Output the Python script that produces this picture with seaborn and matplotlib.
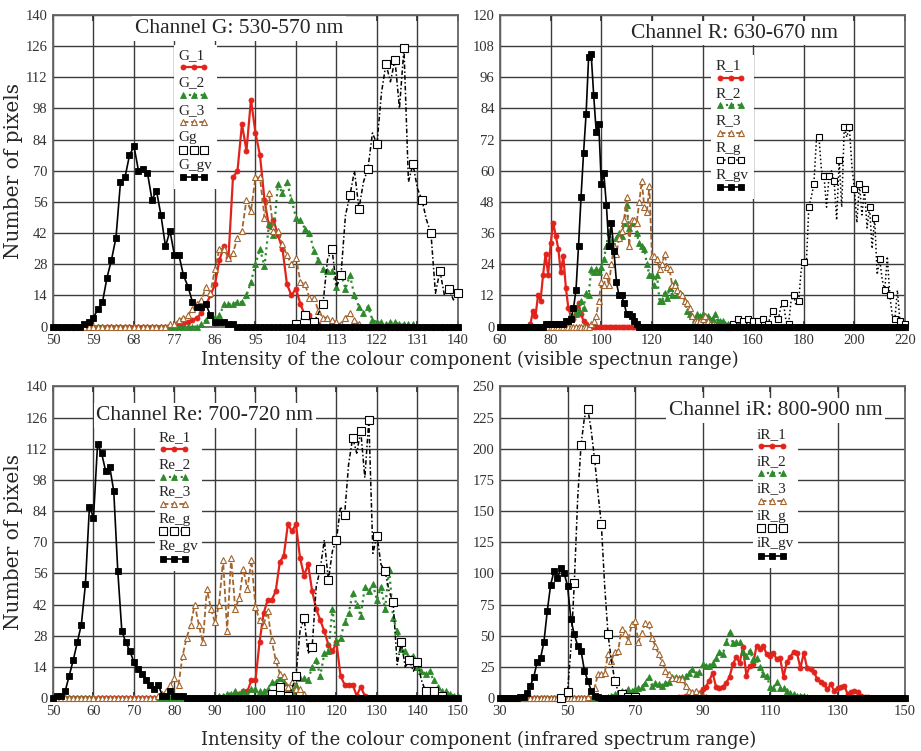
import numpy as np
import pandas as pd
import matplotlib
matplotlib.use('Agg')
import matplotlib.pyplot as plt
from matplotlib.lines import Line2D
import seaborn as sns

# histogram counts: first intensity value, then one count per intensity step
# (everything outside the listed run is zero)

# Channel G: 530-570 nm
G_range = (50, 140)
G_1_start = 78
G_1 = [1, 1, 2, 3, 4, 6, 10, 14, 19, 30, 36, 31, 67, 70, 91, 79, 102, 87, 77, 57,
       45, 48, 41, 35, 19, 14, 17, 10, 5, 5, 2, 1]
G_2_start = 83
G_2 = [1, 3, 5, 4, 5, 10, 10, 10, 11, 11, 14, 20, 28, 35, 27, 46, 41, 64, 60, 65,
       57, 49, 48, 44, 42, 34, 30, 26, 25, 25, 18, 24, 17, 23, 14, 9, 6, 9, 3, 2,
       2, 1, 2, 2, 1, 1, 1, 1]
G_3_start = 76
G_3 = [1, 1, 3, 4, 5, 8, 10, 12, 18, 15, 26, 35, 35, 31, 33, 40, 43, 57, 52, 67,
       67, 49, 60, 43, 43, 37, 32, 28, 31, 20, 19, 13, 13, 7, 4, 4, 3, 2, 1, 4,
       6, 3, 1]
Gg_start = 104
Gg = [1, 3, 5, 3, 2, 6, 10, 30, 35, 18, 23, 50, 59, 70, 53, 65, 71, 87, 82, 105,
      118, 110, 120, 98, 125, 65, 73, 62, 57, 48, 42, 15, 25, 14, 17, 12, 15]
G_gv_start = 57
G_gv = [1, 2, 4, 8, 11, 22, 30, 40, 65, 67, 77, 81, 70, 71, 69, 57, 61, 50, 36, 43,
        32, 32, 23, 18, 11, 9, 9, 10, 5, 2, 2, 2, 1, 1]

# Channel R: 630-670 nm
R_range = (60, 220)
R_1_start = 72
R_1 = [1, 6, 4, 12, 10, 20, 28, 20, 32, 40, 35, 30, 21, 27, 15, 7, 4, 3, 5, 9, 5, 2, 1]
R_2_start = 86
R_2 = [1, 2, 4, 7, 5, 6, 10, 7, 13, 12, 22, 21, 22, 21, 23, 26, 31, 37, 33, 31,
       34, 36, 35, 40, 47, 38, 40, 40, 36, 32, 31, 30, 24, 20, 20, 16, 20, 10, 10, 13,
       11, 15, 12, 17, 12, 13, 12, 10, 6, 5, 4, 3, 5, 4, 5, 4, 4, 3, 3, 5,
       2, 2, 2, 1, 1, 0, 1, 0, 1, 0, 0, 1, 0, 1]
R_3_start = 96
R_3 = [1, 2, 4, 10, 17, 16, 20, 16, 24, 31, 28, 34, 37, 41, 50, 31, 41, 41, 40, 48,
       56, 46, 44, 54, 27, 27, 26, 22, 24, 28, 23, 22, 16, 16, 14, 13, 12, 10, 9, 7,
       4, 2, 2, 2, 3, 4, 2, 1, 1]
R_g_start = 150
R_g = [0, 1, 1, 2, 3, 1, 2, 1, 3, 1, 2, 3, 2, 1, 3, 2, 1, 5, 6, 2,
       3, 8, 9, 2, 1, 10, 12, 8, 10, 22, 25, 24, 46, 50, 55, 72, 73, 60, 58, 46,
       58, 60, 56, 41, 64, 46, 77, 73, 77, 62, 53, 40, 55, 43, 53, 38, 46, 30, 42, 20,
       26, 18, 14, 27, 12, 4, 3, 14, 2, 1, 1]
R_gv_start = 78
R_gv = [1, 1, 1, 1, 1, 1, 1, 1, 2, 2, 3, 7, 14, 31, 50, 67, 82, 104, 105, 89,
        75, 78, 55, 59, 47, 31, 40, 29, 17, 12, 12, 9, 5, 5, 4, 2, 1]

# Channel Re: 700-720 nm
Re_range = (50, 150)
Re_1_start = 94
Re_1 = [1, 2, 2, 3, 3, 8, 8, 25, 38, 44, 44, 48, 61, 64, 78, 75, 78, 63, 55, 60,
        48, 40, 35, 30, 24, 21, 25, 10, 6, 6, 6, 1, 5, 1]
Re_2_start = 91
Re_2 = [1, 1, 2, 2, 3, 2, 3, 2, 4, 4, 3, 3, 4, 7, 7, 9, 7, 4, 3, 6,
        9, 9, 8, 14, 17, 10, 20, 21, 40, 25, 27, 34, 38, 47, 42, 37, 50, 48, 51, 44,
        50, 40, 58, 36, 30, 22, 21, 18, 19, 14, 12, 11, 12, 8, 5, 3, 3, 2, 1, 1]
Re_3_start = 76
Re_3 = [1, 2, 3, 6, 9, 6, 19, 27, 33, 42, 33, 25, 49, 40, 34, 42, 62, 30, 63, 40,
        45, 58, 49, 62, 41, 35, 33, 39, 26, 17, 11, 10, 5, 7, 4, 4, 2]
Re_g_start = 104
Re_g = [2, 3, 5, 3, 1, 4, 10, 30, 36, 20, 23, 50, 58, 71, 53, 66, 71, 86, 82, 105,
        117, 110, 120, 99, 125, 65, 73, 60, 57, 48, 43, 15, 25, 14, 17, 12, 16, 8, 3, 2,
        3, 1, 1]
Re_gv_start = 51
Re_gv = [1, 1, 3, 10, 17, 25, 33, 51, 86, 81, 114, 110, 102, 104, 93, 57, 30, 25, 21, 16,
         13, 11, 8, 6, 4, 6, 1, 1, 3, 1, 1, 1]

# Channel iR: 800-900 nm
iR_range = (30, 150)
iR_1_start = 83
iR_1 = [1, 1, 2, 2, 2, 3, 4, 7, 9, 14, 20, 9, 8, 9, 12, 17, 27, 33, 28, 41,
        18, 26, 27, 42, 39, 42, 35, 34, 36, 31, 32, 17, 29, 33, 37, 36, 24, 36, 24, 23,
        21, 15, 13, 11, 7, 11, 6, 8, 9, 10, 3, 5, 6, 5, 2, 1, 1]
iR_2_start = 62
iR_2 = [1, 2, 3, 4, 6, 5, 7, 6, 7, 8, 9, 12, 17, 10, 12, 11, 10, 12, 13, 17,
        17, 16, 17, 18, 20, 23, 19, 21, 27, 26, 26, 28, 32, 37, 35, 45, 53, 44, 45, 45,
        37, 34, 38, 31, 32, 25, 19, 18, 9, 8, 13, 8, 8, 6, 4, 3, 2, 2, 2, 1]
iR_3_start = 56
iR_3 = [1, 4, 8, 19, 19, 20, 35, 30, 37, 38, 55, 52, 46, 59, 62, 45, 52, 60, 59, 48,
        42, 35, 29, 22, 19, 16, 16, 15, 15, 10, 6, 5, 6, 3, 2, 1]
iR_g_start = 48
iR_g = [0, 1, 5, 40, 92, 160, 203, 225, 232, 215, 192, 165, 140, 90, 51, 30, 14, 5, 3, 2,
        1, 1, 1]
iR_gv_start = 36
iR_gv = [1, 1, 4, 10, 17, 29, 32, 45, 70, 91, 102, 96, 104, 100, 90, 63, 51, 42, 38, 22,
         14, 6, 2, 1]

RED = '#e2231c'
GREEN = '#2f8a2c'
BROWN = '#a3652e'

st_1 = dict(color=RED, linestyle='-', linewidth=1.6, marker='o', markersize=3.6,
            markerfacecolor=RED, markeredgecolor=RED, markeredgewidth=0.6)
st_2 = dict(color=GREEN, linestyle=':', linewidth=1.6, marker='^', markersize=4.3,
            markerfacecolor=GREEN, markeredgecolor=GREEN, markeredgewidth=0.6)
st_3 = dict(color=BROWN, linestyle=(0, (3, 1.5)), linewidth=1.3, marker='^', markersize=4.6,
            markerfacecolor='white', markeredgecolor=BROWN, markeredgewidth=0.8)
st_g = dict(color='black', linestyle=(0, (3, 1.5, 1, 1.5)), linewidth=1.1, marker='s',
            markersize=5.6, markerfacecolor='white', markeredgecolor='black', markeredgewidth=0.8)
st_gr = dict(st_g, linestyle=':', markersize=4.4)
st_gv = dict(color='black', linestyle='-', linewidth=1.2, marker='s', markersize=3.8,
             markerfacecolor='black', markeredgecolor='black', markeredgewidth=0.6)


def counts(rng, start, vals, pad=True):
    if not pad:
        x = np.arange(start, start + len(vals))
        return pd.DataFrame({'intensity': x, 'pixels': np.array(vals, dtype=float)})
    x = np.arange(rng[0], rng[1] + 1)
    y = np.zeros(len(x))
    y[start - rng[0]:start - rng[0] + len(vals)] = vals
    return pd.DataFrame({'intensity': x, 'pixels': y})


panels = [
    dict(title='Channel G: 530-570 nm', rng=G_range, xticks=np.arange(50, 141, 9),
         yticks=np.arange(0, 141, 14),
         series=[('G_1', G_1_start, G_1, st_1), ('G_2', G_2_start, G_2, st_2),
                 ('G_3', G_3_start, G_3, st_3), ('Gg', Gg_start, Gg, st_g),
                 ('G_gv', G_gv_start, G_gv, st_gv)],
         tpos=(0.46, 0.957), lpos=(0.300, 0.905)),
    dict(title='Channel R: 630-670 nm', rng=R_range, xticks=np.arange(60, 221, 20),
         yticks=np.arange(0, 121, 12),
         series=[('R_1', R_1_start, R_1, st_1), ('R_2', R_2_start, R_2, st_2),
                 ('R_3', R_3_start, R_3, st_3), ('R_g', R_g_start, R_g, st_gr),
                 ('R_gv', R_gv_start, R_gv, st_gv)],
         tpos=(0.58, 0.942), lpos=(0.522, 0.872)),
    dict(title='Channel Re: 700-720 nm', rng=Re_range, xticks=np.arange(50, 151, 10),
         yticks=np.arange(0, 141, 14),
         series=[('Re_1', Re_1_start, Re_1, st_1), ('Re_2', Re_2_start, Re_2, st_2),
                 ('Re_3', Re_3_start, Re_3, st_3), ('Re_g', Re_g_start, Re_g, st_g),
                 ('Re_gv', Re_gv_start, Re_gv, st_gv)],
         tpos=(0.375, 0.907), lpos=(0.252, 0.872)),
    dict(title='Channel iR: 800-900 nm', rng=iR_range, xticks=np.arange(30, 151, 20),
         yticks=np.arange(0, 251, 25),
         series=[('iR_1', iR_1_start, iR_1, st_1), ('iR_2', iR_2_start, iR_2, st_2),
                 ('iR_3', iR_3_start, iR_3, st_3), ('iR_g', iR_g_start, iR_g, st_g),
                 ('iR_gv', iR_gv_start, iR_gv, st_gv)],
         tpos=(0.68, 0.923), lpos=(0.624, 0.882)),
]

sns.set_theme(style='whitegrid', rc={
    'grid.color': '#3c3c3c', 'grid.linewidth': 1.0,
    'axes.edgecolor': '#666666', 'axes.linewidth': 1.3,
    'xtick.bottom': True, 'xtick.top': True, 'ytick.left': True,
    'xtick.direction': 'in', 'ytick.direction': 'in',
    'xtick.major.size': 4, 'ytick.major.size': 0,
    'xtick.color': '#333333', 'ytick.color': '#333333',
})
plt.rcParams['font.family'] = ['Liberation Serif', 'DejaVu Serif']

fig, axes = plt.subplots(2, 2, figsize=(9.21, 7.51), dpi=100)
fig.subplots_adjust(left=53 / 921, right=905 / 921, top=1 - 15 / 751, bottom=1 - 698 / 751,
                    wspace=0.104, hspace=0.192)


def stacked_legend(ax, names, styles, pos):
    # label sits above its line sample, like the original
    hs, ls = [], []
    for nm, st in zip(names, styles):
        hs.append(Line2D([], [], linestyle='none'))
        ls.append(nm)
        hs.append(Line2D([], [], **st))
        ls.append(' ')
    leg = ax.legend(hs, ls, loc='upper left', bbox_to_anchor=pos, numpoints=3,
                    handlelength=2.0, handletextpad=0, labelspacing=0.0, borderpad=0.25,
                    borderaxespad=0, frameon=True, fancybox=False, framealpha=1,
                    facecolor='white', edgecolor='none',
                    prop={'family': 'Liberation Serif', 'size': 11})
    col = leg._legend_handle_box.get_children()[0]
    for i, item in enumerate(col.get_children()):
        if i % 2 == 0:
            item.get_children()[0].width = 0
            item.sep = 0
    leg.set_zorder(6)


for ax, p in zip(axes.flat, panels):
    for name, start, vals, st in p['series']:
        open_sq = st['marker'] == 's' and st['markerfacecolor'] == 'white'
        df = counts(p['rng'], start, vals, pad=not open_sq)
        extra = {'markevery': 2} if open_sq else {}
        sns.lineplot(data=df, x='intensity', y='pixels', ax=ax, estimator=None,
                     errorbar=None, zorder=3, clip_on=False, **st, **extra)
    ax.set_xlim(*p['rng'])
    ax.set_ylim(p['yticks'][0], p['yticks'][-1])
    ax.set_xticks(p['xticks'])
    ax.set_yticks(p['yticks'])
    ax.tick_params(labelsize=10.5)
    ax.tick_params(axis='x', pad=5)
    ax.tick_params(axis='y', pad=4)
    ax.set_xlabel('')
    ax.set_ylabel('')
    ax.text(p['tpos'][0], p['tpos'][1], p['title'], transform=ax.transAxes, ha='center',
            va='center', fontsize=15.5, family='Liberation Serif', zorder=5,
            bbox=dict(facecolor='white', edgecolor='none', pad=2))
    stacked_legend(ax, [s[0] for s in p['series']], [s[3] for s in p['series']], p['lpos'])

for ax in axes[:, 0]:
    ax.set_ylabel('Number of pixels', fontsize=14.5, family='DejaVu Serif', labelpad=2)

fig.text(0.51, 1 - 360 / 751, 'Intensity of the colour component (visible spectnun range)',
         ha='center', va='center', fontsize=13, family='DejaVu Serif')
fig.text(0.52, 1 - 740 / 751, 'Intensity of the colour component (infrared spectrum range)',
         ha='center', va='center', fontsize=13, family='DejaVu Serif')

fig.savefig('out.png', dpi=100)
